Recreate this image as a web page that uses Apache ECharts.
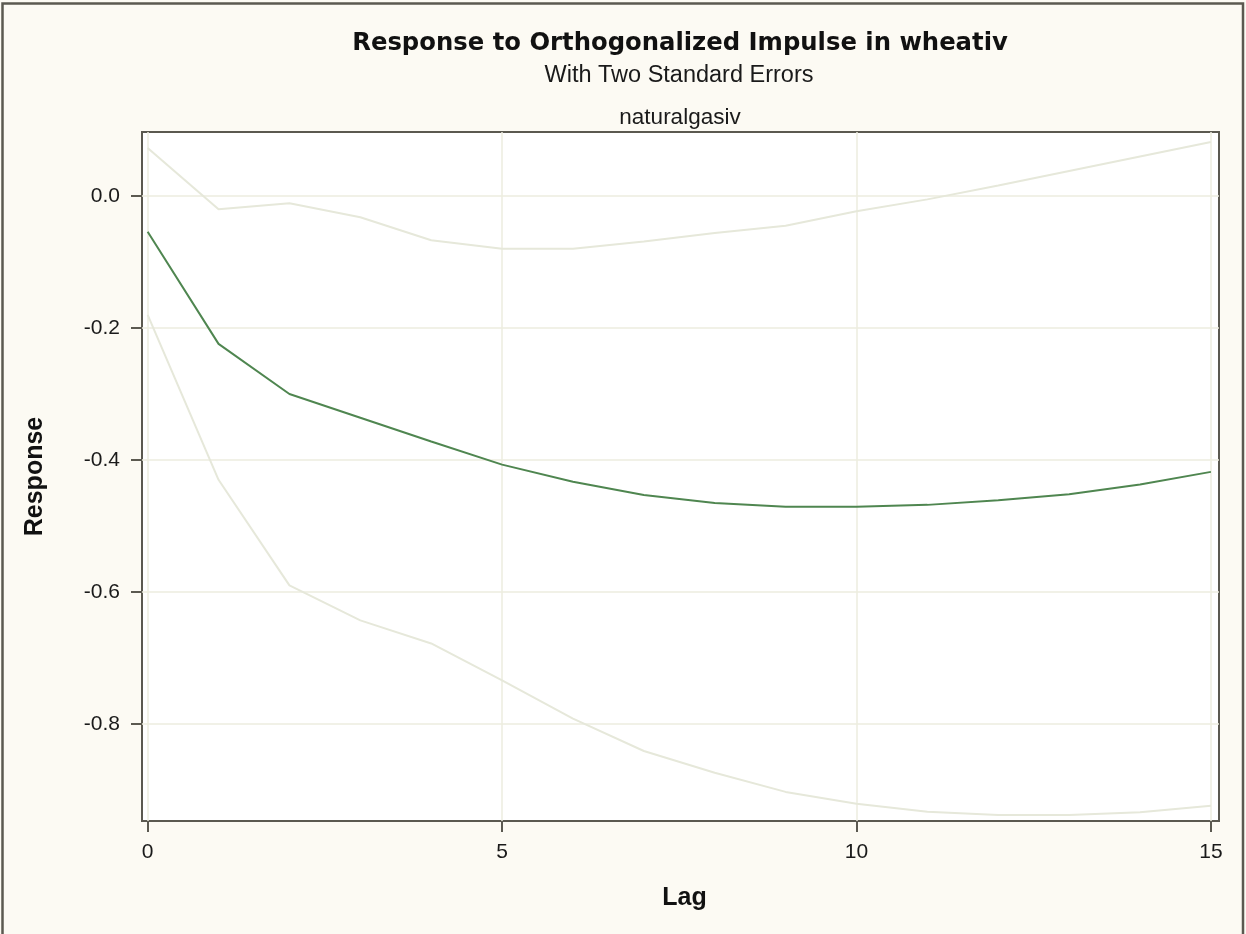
<!DOCTYPE html>
<html>
<head>
<meta charset="utf-8">
<title>Response to Orthogonalized Impulse in wheativ</title>
<script src="https://cdn.jsdelivr.net/npm/echarts@6/dist/echarts.min.js"></script>
<style>
  html, body { margin: 0; padding: 0; background: #FCFAF3; }
  #chart { width: 1246px; height: 934px; }
</style>
</head>
<body>
<div id="chart"></div>
<script>
// Impulse response of naturalgasiv to a shock in wheativ, with two-standard-error bands
const lags = [0, 1, 2, 3, 4, 5, 6, 7, 8, 9, 10, 11, 12, 13, 14, 15];
const response = [-0.054, -0.224, -0.300, -0.336, -0.372, -0.407, -0.433, -0.453,
                  -0.465, -0.471, -0.471, -0.468, -0.461, -0.452, -0.437, -0.418];
const upperBand = [0.073, -0.020, -0.011, -0.032, -0.067, -0.080, -0.080, -0.069,
                   -0.056, -0.045, -0.023, -0.005, 0.016, 0.038, 0.060, 0.082];
const lowerBand = [-0.180, -0.430, -0.590, -0.643, -0.678, -0.734, -0.792, -0.841,
                   -0.874, -0.903, -0.921, -0.933, -0.938, -0.938, -0.934, -0.924];
const xTicks = [0, 5, 10, 15];
const yTicks = [-0.8, -0.6, -0.4, -0.2, 0.0];

const pairs = (ys) => lags.map((x, i) => [x, ys[i]]);

const chart = echarts.init(document.getElementById('chart'), null, { renderer: 'canvas' });

const tickFont = { fontFamily: 'Liberation Sans', fontSize: 21, color: '#1a1a1a' };
const nameFont = { fontFamily: 'Liberation Sans', fontSize: 25, fontWeight: 'bold', color: '#111' };

chart.setOption({
  animation: false,
  backgroundColor: '#FCFAF3',
  graphic: [
    { type: 'rect', silent: true, z: 100,
      shape: { x: 2.5, y: 3.5, width: 1240.5, height: 940 },
      style: { fill: null, stroke: '#5b5950', lineWidth: 2.5 } },
    { type: 'text', x: 680, y: 44, z: 100,
      style: { text: 'Response to Orthogonalized Impulse in wheativ', align: 'center', verticalAlign: 'middle',
               font: 'bold 24.3px "DejaVu Sans"', fill: '#111' } },
    { type: 'text', x: 679, y: 76, z: 100,
      style: { text: 'With Two Standard Errors', align: 'center', verticalAlign: 'middle',
               font: '23.5px "Liberation Sans"', fill: '#1a1a1a' } },
    { type: 'text', x: 680, y: 118, z: 100,
      style: { text: 'naturalgasiv', align: 'center', verticalAlign: 'middle',
               font: '22.5px "Liberation Sans"', fill: '#1a1a1a' } }
  ],
  grid: {
    left: 142, top: 132, width: 1077, height: 689,
    show: true, backgroundColor: '#ffffff', borderColor: '#5b5950', borderWidth: 2
  },
  xAxis: {
    type: 'value', min: -0.08, max: 15.114, minInterval: 5, maxInterval: 5,
    name: 'Lag', nameLocation: 'middle', nameGap: 65,
    nameTextStyle: { ...nameFont, padding: [0, 0, 0, 8] },
    axisLine: { show: false, onZero: false },
    axisTick: { show: true, inside: false, length: 11, customValues: xTicks,
                lineStyle: { color: '#5b5950', width: 2 } },
    axisLabel: { ...tickFont, margin: 21, customValues: xTicks },
    splitLine: { show: true, lineStyle: { color: '#EDECDF', width: 1.5 } }
  },
  yAxis: {
    type: 'value', min: -0.9471, max: 0.0971, minInterval: 0.2, maxInterval: 0.2,
    name: 'Response', nameLocation: 'middle', nameGap: 94, nameTextStyle: nameFont,
    axisLine: { show: false, onZero: false },
    axisTick: { show: true, inside: false, length: 11, customValues: yTicks,
                lineStyle: { color: '#5b5950', width: 2 } },
    axisLabel: { ...tickFont, margin: 22, customValues: yTicks,
                 formatter: (v) => v.toFixed(1) },
    splitLine: { show: true, lineStyle: { color: '#EDECDF', width: 1.5 } }
  },
  series: [
    { name: 'Upper', type: 'line', data: pairs(upperBand), symbol: 'none', silent: true,
      lineStyle: { color: '#E6E8DA', width: 2 }, z: 2 },
    { name: 'Lower', type: 'line', data: pairs(lowerBand), symbol: 'none', silent: true,
      lineStyle: { color: '#E6E8DA', width: 2 }, z: 2 },
    { name: 'Response', type: 'line', data: pairs(response), symbol: 'none', silent: true,
      lineStyle: { color: '#4F8650', width: 2 }, z: 3 }
  ]
});
</script>
</body>
</html>
